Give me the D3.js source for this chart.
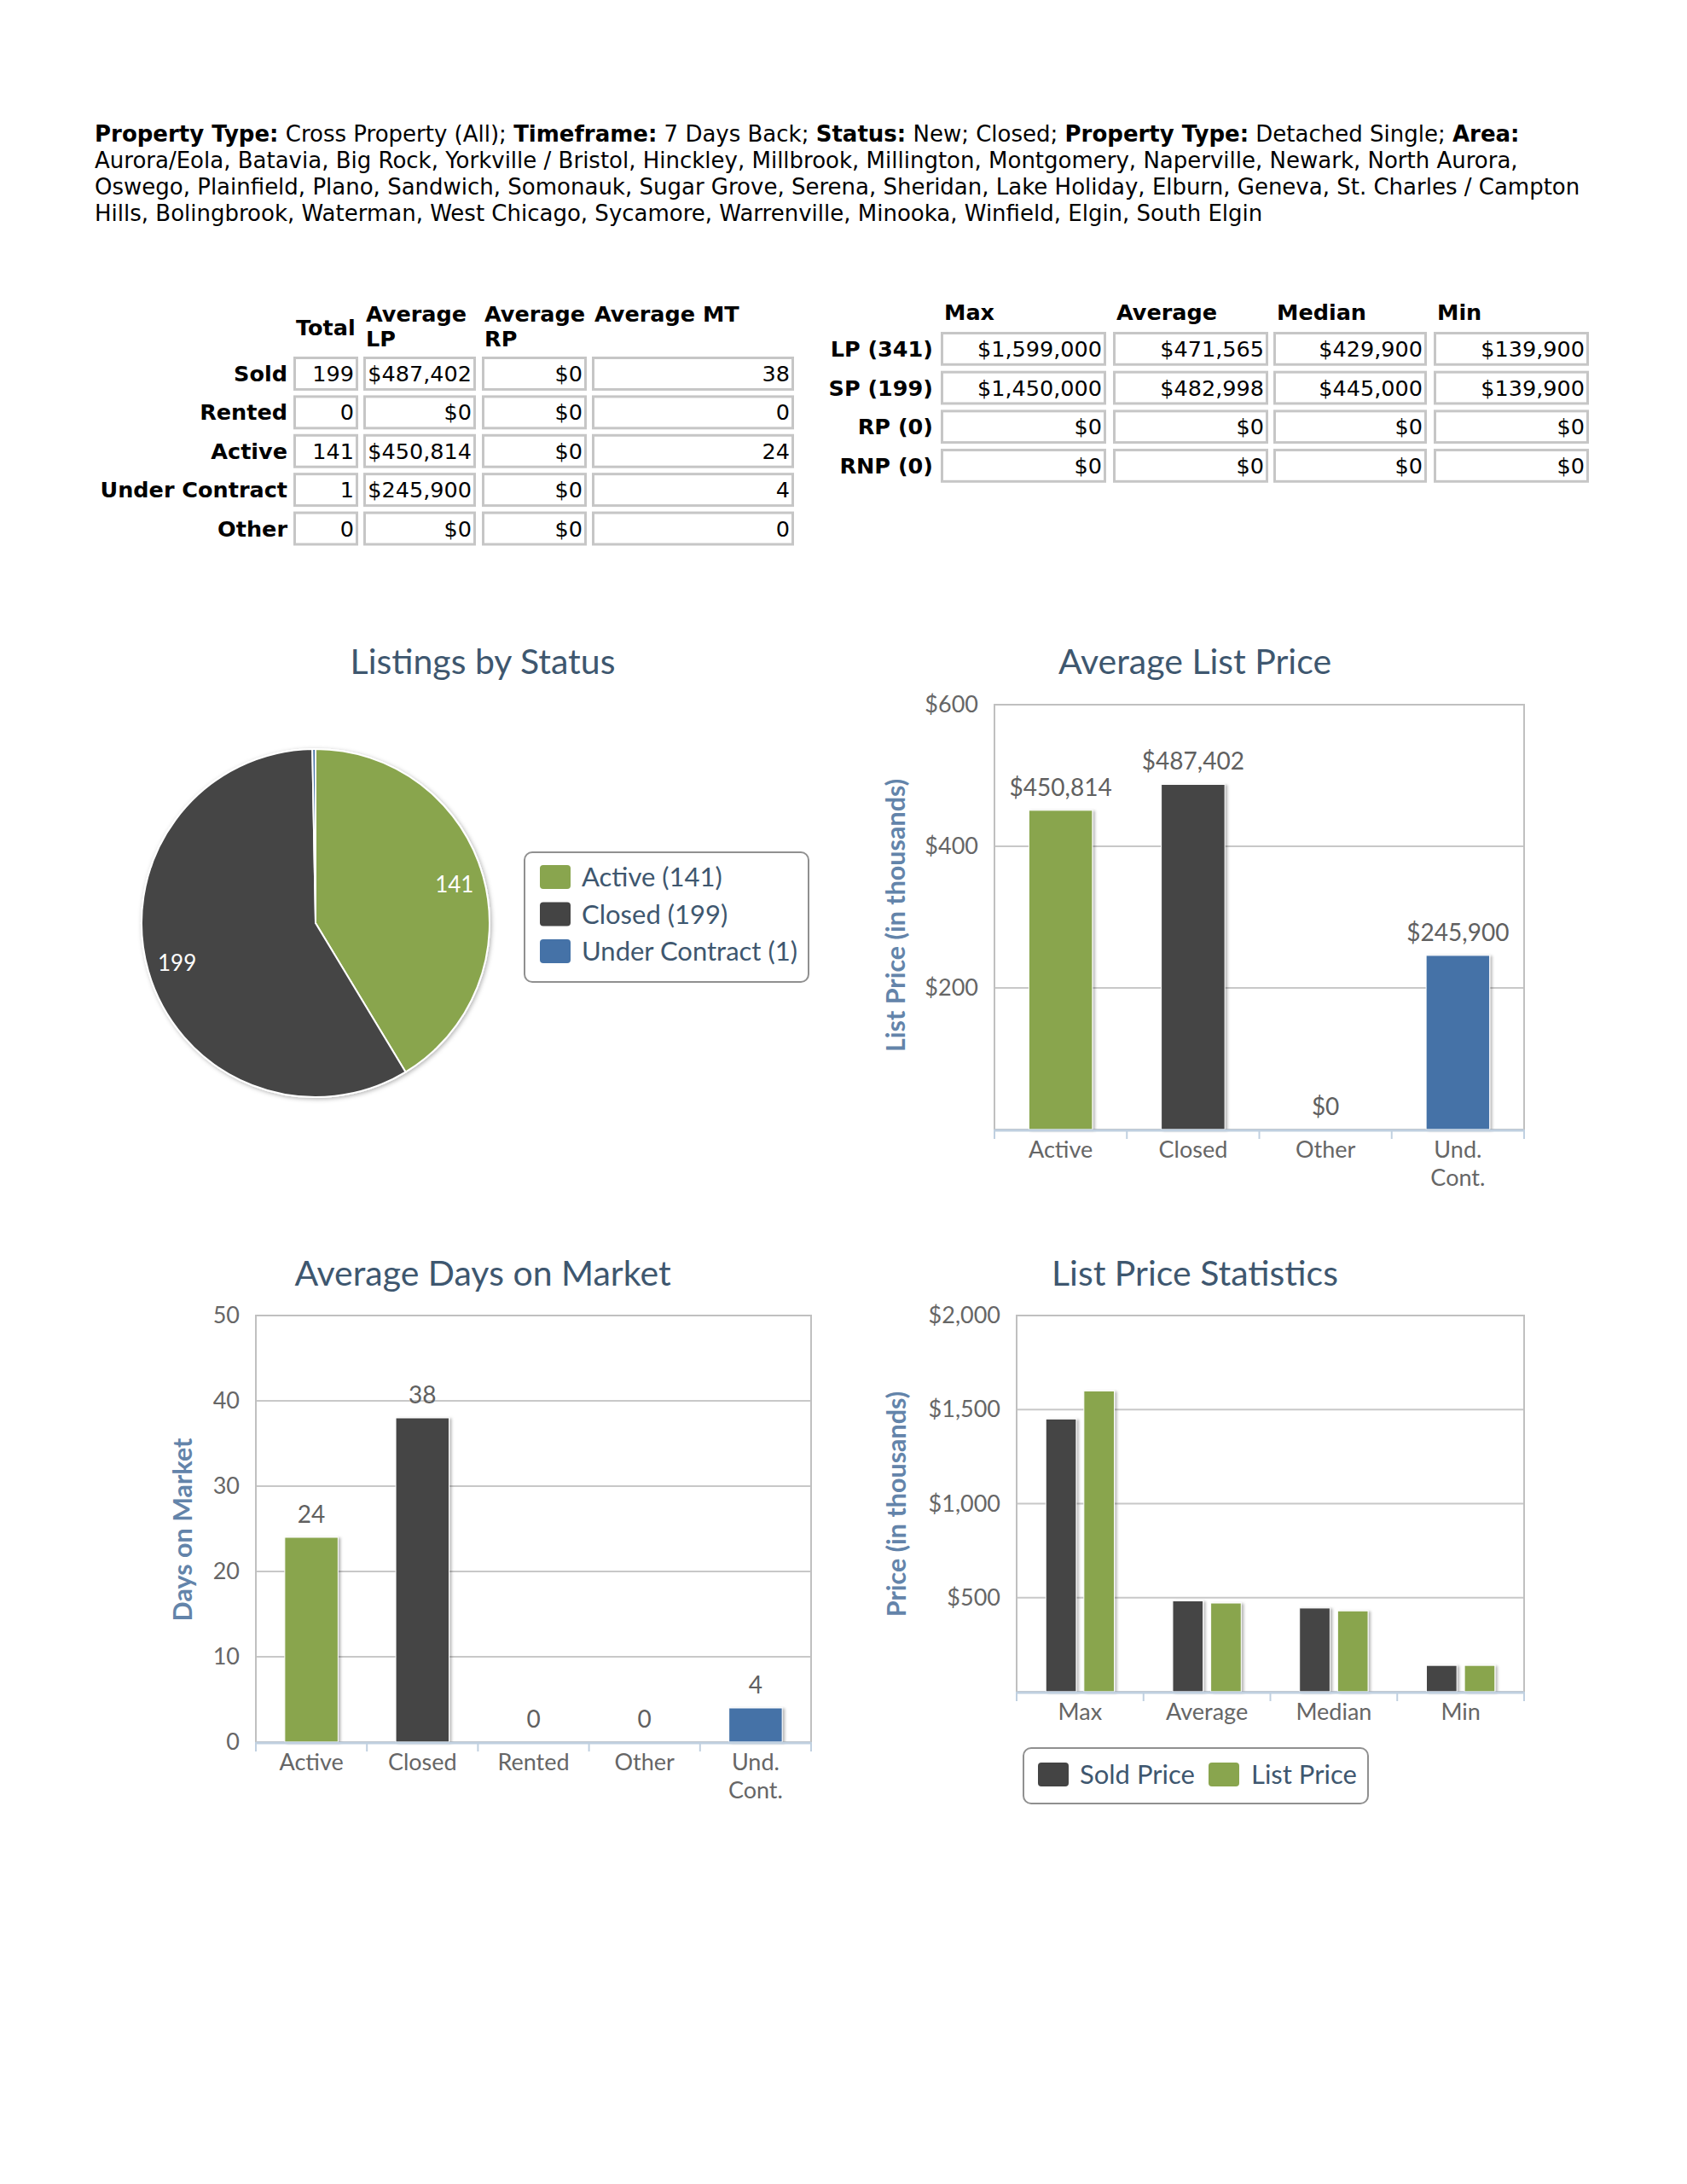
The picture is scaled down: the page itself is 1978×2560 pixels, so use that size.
<!DOCTYPE html>
<html><head><meta charset="utf-8">
<script src="https://cdn.jsdelivr.net/npm/d3@7"></script>
<style>body{margin:0;background:#fff}svg{display:block}</style>
</head><body><svg id="c"></svg>
<script>
// ---------------- DATA ----------------
const headerLines = [
  [["Property Type:",1],[" Cross Property (All); ",0],["Timeframe:",1],[" 7 Days Back; ",0],["Status:",1],[" New; Closed; ",0],["Property Type:",1],[" Detached Single; ",0],["Area:",1]],
  [["Aurora/Eola, Batavia, Big Rock, Yorkville / Bristol, Hinckley, Millbrook, Millington, Montgomery, Naperville, Newark, North Aurora,",0]],
  [["Oswego, Plainfield, Plano, Sandwich, Somonauk, Sugar Grove, Serena, Sheridan, Lake Holiday, Elburn, Geneva, St. Charles / Campton",0]],
  [["Hills, Bolingbrook, Waterman, West Chicago, Sycamore, Warrenville, Minooka, Winfield, Elgin, South Elgin",0]]
];

const statusRows = ["Sold","Rented","Active","Under Contract","Other"];
const statusTotal = [199,0,141,1,0];
const statusAvgLP = [487402,0,450814,245900,0];
const statusAvgRP = [0,0,0,0,0];
const statusAvgMT = [38,0,24,4,0];
const statusHeaders = [["Total"],["Average","LP"],["Average","RP"],["Average MT"]];

const priceRows = ["LP (341)","SP (199)","RP (0)","RNP (0)"];
const priceCols = ["Max","Average","Median","Min"];
const lpStats  = [1599000,471565,429900,139900];
const spStats  = [1450000,482998,445000,139900];
const rpStats  = [0,0,0,0];
const rnpStats = [0,0,0,0];

const pieLabels = ["Active","Closed","Under Contract"];
const pieValues = [141,199,1];

const avgLpCats = ["Active","Closed","Other","Und. Cont."];
const avgLpValues = [450814,487402,0,245900];
const avgLpTicks = [200000,400000,600000];

const domCats = ["Active","Closed","Rented","Other","Und. Cont."];
const domValues = [24,38,0,0,4];
const domTicks = [0,10,20,30,40,50];

const statCats = ["Max","Average","Median","Min"];
const statSold = [1450000,482998,445000,139900];
const statList = [1599000,471565,429900,139900];
const statTicks = [500000,1000000,1500000,2000000];
const statSeries = ["Sold Price","List Price"];

// ---------------- STYLE ----------------
const C = {green:"#89A54E", dark:"#444444", blue:"#4572A7", red:"#AA4643"};
const catColor = {"Active":C.green,"Closed":C.dark,"Rented":C.red,"Other":C.red,"Und. Cont.":C.blue,"Under Contract":C.blue};
const TFONT = "DejaVu Sans, Verdana, sans-serif";
const CFONT = "Lato, 'Open Sans', sans-serif";

const svg = d3.select("#c").attr("width",1978).attr("height",2560);
svg.append("rect").attr("width",1978).attr("height",2560).attr("fill","#fff");
const defs = svg.append("defs");
const sh = defs.append("filter").attr("id","barShadow").attr("x","-30%").attr("y","-10%").attr("width","160%").attr("height","120%");
sh.append("feDropShadow").attr("dx",2.5).attr("dy",1).attr("stdDeviation",1.6).attr("flood-color","#000").attr("flood-opacity",0.28);
const ps = defs.append("filter").attr("id","pieShadow").attr("x","-20%").attr("y","-20%").attr("width","140%").attr("height","140%");
ps.append("feDropShadow").attr("dx",1.5).attr("dy",1.5).attr("stdDeviation",2.5).attr("flood-color","#000").attr("flood-opacity",0.3);

// ---------------- HEADER ----------------
const hdr = svg.append("g").attr("font-family",TFONT).attr("font-size",26).attr("fill","#000").style("white-space","pre");
headerLines.forEach((segs,i)=>{
  const t = hdr.append("text").attr("x",111).attr("y",166+i*31);
  segs.forEach(s=>t.append("tspan").attr("font-weight",s[1]?"bold":"normal").text(s[0]));
});

// ---------------- TABLES ----------------
function cellTable(g, rows, cols, colX, rowScale, fmt, labelRight){
  rows.forEach((r,ri)=>{
    const y = rowScale(r), h = rowScale.bandwidth();
    g.append("text").attr("x",labelRight).attr("y",y+h/2+9).attr("text-anchor","end")
      .attr("font-weight","bold").text(r);
    cols.forEach((col,ci)=>{
      const [xa,xb] = colX[ci];
      g.append("rect").attr("x",xa+1.5).attr("y",y+1.5).attr("width",xb-xa-3).attr("height",h-3)
        .attr("fill","#fff").attr("stroke","#c6c6c6").attr("stroke-width",3);
      g.append("text").attr("x",xb-5).attr("y",y+h/2+9).attr("text-anchor","end").text(fmt[ci](col[ri]));
    });
  });
}
const money = d3.format("$,");
const plain = d3.format(",");

const t1 = svg.append("g").attr("font-family",TFONT).attr("font-size",25.5).attr("fill","#000");
const t1ColX = [[344,420],[426,558],[565,688],[694,931]];
const t1Rows = d3.scaleBand().domain(statusRows).range([418,418+5*44.3]).paddingInner(0.12).paddingOuter(0);
cellTable(t1, statusRows, [statusTotal,statusAvgLP,statusAvgRP,statusAvgMT], t1ColX, t1Rows, [plain,money,money,plain], 337);
statusHeaders.forEach((lines,i)=>{
  const x = t1ColX[i][0]+3;
  if(lines.length===1 && i===0){
    t1.append("text").attr("x",x).attr("y",393).attr("font-weight","bold").text(lines[0]);
  } else {
    lines.forEach((l,li)=>t1.append("text").attr("x",x).attr("y",377+li*29).attr("font-weight","bold").text(l));
  }
});

const t2 = svg.append("g").attr("font-family",TFONT).attr("font-size",25.5).attr("fill","#000");
const t2ColX = [[1103,1297],[1305,1487],[1493,1673],[1681,1863]];
const t2Rows = d3.scaleBand().domain(priceRows).range([389,389+4*44.2]).paddingInner(0.13).paddingOuter(0);
const byCol = priceCols.map((c,ci)=>[lpStats[ci],spStats[ci],rpStats[ci],rnpStats[ci]]);
cellTable(t2, priceRows, byCol, t2ColX, t2Rows, [money,money,money,money], 1094);
priceCols.forEach((c,i)=>t2.append("text").attr("x",t2ColX[i][0]+4).attr("y",375).attr("font-weight","bold").text(c));

// ---------------- CHART HELPERS ----------------
function title(text, cx, cy){
  svg.append("text").attr("x",cx).attr("y",cy+13).attr("text-anchor","middle")
    .attr("font-family",CFONT).attr("font-size",41).attr("fill","#3E576F").text(text);
}

function legend(items, box, layout){
  const g = svg.append("g").attr("font-family",CFONT).attr("font-size",31).attr("fill","#3E576F");
  g.append("rect").attr("x",box[0]).attr("y",box[1]).attr("width",box[2]-box[0]).attr("height",box[3]-box[1])
    .attr("rx",9).attr("fill","#fff").attr("stroke","#909090").attr("stroke-width",2);
  items.forEach((it,i)=>{
    const [sx,sy,tx,ty] = layout(i);
    g.append("rect").attr("x",sx).attr("y",sy).attr("width",36).attr("height",28).attr("rx",4).attr("fill",it.color);
    g.append("text").attr("x",tx).attr("y",ty).text(it.label);
  });
}

function barChart(o){
  const g = svg.append("g").attr("font-family",CFONT);
  const x = d3.scaleBand().domain(o.cats).range([o.x0,o.x1]).padding(0);
  const bw = x.bandwidth();
  const inner = d3.scaleBand().domain(d3.range(o.series.length)).range([0.2*bw,0.8*bw]).paddingInner(0.2).paddingOuter(0.1);
  const y = d3.scaleLinear().domain([0,o.yMax]).range([o.y1,o.y0]);
  // grid
  g.append("g").selectAll("line").data(o.ticks.filter(t=>t>0)).join("line")
    .attr("x1",o.x0).attr("x2",o.x1).attr("y1",d=>y(d)).attr("y2",d=>y(d))
    .attr("stroke","#C8C8C8").attr("stroke-width",2);
  // plot border
  g.append("rect").attr("x",o.x0).attr("y",o.y0).attr("width",o.x1-o.x0).attr("height",o.y1-o.y0)
    .attr("fill","none").attr("stroke","#C0C0C0").attr("stroke-width",2);
  // bars
  o.series.forEach((s,si)=>{
    g.append("g").attr("filter","url(#barShadow)").selectAll("rect").data(s.values.map((v,i)=>({v,c:o.cats[i]}))).join("rect")
      .filter(d=>d.v>0)
      .attr("x",d=>x(d.c)+inner(si)).attr("width",inner.bandwidth())
      .attr("y",d=>y(d.v)).attr("height",d=>y(0)-y(d.v))
      .attr("fill",d=>s.color(d.c)).attr("stroke","#fff").attr("stroke-width",1);
    if(s.labels){
      g.append("g").selectAll("text").data(s.values.map((v,i)=>({v,c:o.cats[i]}))).join("text")
        .attr("x",d=>x(d.c)+inner(si)+inner.bandwidth()/2).attr("y",d=>y(d.v)-17)
        .attr("text-anchor","middle").attr("font-size",28).attr("fill","#606060").text(d=>s.labelFmt(d.v));
    }
  });
  // x axis
  g.append("line").attr("x1",o.x0).attr("x2",o.x1).attr("y1",o.y1+1).attr("y2",o.y1+1)
    .attr("stroke","#C0D0E0").attr("stroke-width",3);
  g.append("g").selectAll("line").data(d3.range(o.cats.length+1)).join("line")
    .attr("x1",i=>o.x0+i*bw).attr("x2",i=>o.x0+i*bw).attr("y1",o.y1).attr("y2",o.y1+11)
    .attr("stroke","#C0D0E0").attr("stroke-width",2);
  const cl = g.append("g").attr("font-size",27).attr("fill","#666").attr("text-anchor","middle");
  o.cats.forEach(c=>{
    const t = cl.append("text").attr("x",x(c)+bw/2).attr("y",o.y1+33);
    c.split(" ").forEach((w,i)=>t.append("tspan").attr("x",x(c)+bw/2).attr("dy",i?33:0).text(w));
  });
  // y labels
  g.append("g").selectAll("text").data(o.ticks).join("text")
    .attr("x",o.x0-19).attr("y",d=>y(d)+9).attr("text-anchor","end")
    .attr("font-size",27).attr("fill","#666").text(o.tickFmt);
  // axis title
  g.append("text").attr("transform",`translate(${o.axX},${o.axY}) rotate(-90)`).attr("text-anchor","middle")
    .attr("dy","0.35em").attr("font-size",30.5).attr("font-weight","bold").attr("fill","#6384AA").text(o.axisTitle);
}

// ---------------- PIE ----------------
title("Listings by Status", 566, 777);
{
  const cx = 370, cy = 1082, r = 204;
  const arcs = d3.pie().sort(null).value(d=>d)(pieValues);
  const arc = d3.arc().innerRadius(0).outerRadius(r);
  const lab = d3.arc().innerRadius(169).outerRadius(169);
  const g = svg.append("g").attr("transform",`translate(${cx},${cy})`);
  g.append("g").attr("filter","url(#pieShadow)").selectAll("path").data(arcs).join("path")
    .attr("d",arc).attr("fill",(d,i)=>catColor[pieLabels[i]]).attr("stroke","#fff").attr("stroke-width",2).attr("stroke-linejoin","round");
  g.append("g").selectAll("text").data(arcs.filter(a=>a.endAngle-a.startAngle>0.2)).join("text")
    .attr("transform",d=>`translate(${lab.centroid(d)})`).attr("dy","0.35em").attr("text-anchor","middle")
    .attr("font-family",CFONT).attr("font-size",26).attr("fill","#fff").text(d=>d.data);
  legend(pieLabels.map((l,i)=>({label:`${l} (${pieValues[i]})`,color:catColor[l]})), [615,999,948,1151],
    i=>[633, 1014+i*43.5, 682, 1039+i*43.5]);
}

// ---------------- AVERAGE LIST PRICE ----------------
title("Average List Price", 1401, 777);
barChart({cats:avgLpCats, x0:1166, x1:1787, y0:826, y1:1324, yMax:600000, ticks:avgLpTicks,
  tickFmt:d=>money(d/1000),
  series:[{values:avgLpValues, color:c=>catColor[c], labels:true, labelFmt:money}],
  axisTitle:"List Price (in thousands)", axX:1050, axY:1073});

// ---------------- DAYS ON MARKET ----------------
title("Average Days on Market", 566, 1494);
barChart({cats:domCats, x0:300, x1:951, y0:1542, y1:2042, yMax:50, ticks:domTicks,
  tickFmt:d=>d,
  series:[{values:domValues, color:c=>catColor[c], labels:true, labelFmt:d=>d}],
  axisTitle:"Days on Market", axX:214, axY:1793});

// ---------------- LIST PRICE STATISTICS ----------------
title("List Price Statistics", 1401, 1494);
barChart({cats:statCats, x0:1192, x1:1787, y0:1542, y1:1983, yMax:2000000, ticks:statTicks,
  tickFmt:d=>money(d/1000),
  series:[{values:statSold, color:()=>C.dark}, {values:statList, color:()=>C.green}],
  axisTitle:"Price (in thousands)", axX:1051, axY:1763});
legend(statSeries.map((s,i)=>({label:s,color:[C.dark,C.green][i]})), [1200,2049,1604,2114],
  i=>[[1217,1417][i], 2066, [1266,1467][i], 2091]);
</script></body></html>
